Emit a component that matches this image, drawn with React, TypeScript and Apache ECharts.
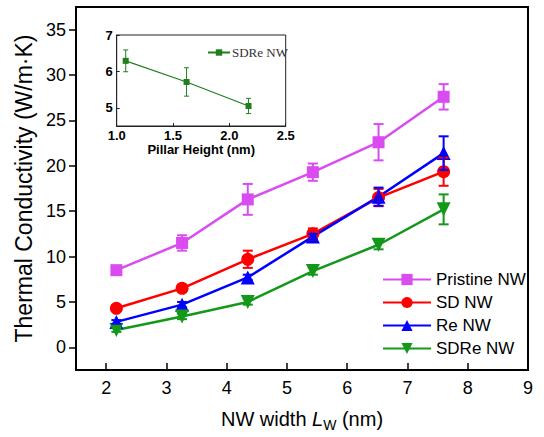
import React, { useEffect, useRef } from "react";
import * as echarts from "echarts";

const widths = [2.17, 3.26, 4.35, 5.43, 6.52, 7.6];
const pristine = [8.5, 11.5, 16.3, 19.3, 22.6, 27.6];
const pristineErr = [0.35, 0.85, 1.7, 0.95, 2.0, 1.4];
const sd = [4.3, 6.5, 9.7, 12.5, 16.5, 19.35];
const sdErr = [0.3, 0.4, 0.95, 0.6, 0.95, 1.55];
const re = [2.8, 4.7, 7.7, 12.2, 16.6, 21.4];
const reErr = [0.2, 0.3, 0.3, 0.3, 1.0, 1.85];
const sdre = [1.9, 3.4, 5.0, 8.4, 11.3, 15.2];
const sdreErr = [0.2, 0.3, 0.3, 0.4, 0.5, 1.65];

const pillar = [1.08, 1.62, 2.17];
const sdrePillar = [6.29, 5.71, 5.05];
const sdrePillarErr = [0.3, 0.39, 0.21];

const xTicks = [2, 3, 4, 5, 6, 7, 8, 9];
const yTicks = [0, 5, 10, 15, 20, 25, 30, 35];
const insetXTicks = [1.0, 1.5, 2.0, 2.5];
const insetYTicks = [5, 6, 7];

const names = ["Pristine NW", "SD NW", "Re NW", "SDRe NW"];
const colors = ["#d94cf0", "#ff0000", "#0000ff", "#14981a"];
const insetColor = "#1f7f1f";

const FONT = "Liberation Sans";

function zip(xs: number[], ys: number[], es?: number[]) {
  return xs.map((x, i) => (es ? [x, ys[i], es[i]] : [x, ys[i]]));
}

function errRender(color: string, cap: number, lw: number) {
  return (params: any, api: any) => {
    const x = api.value(0);
    const y = api.value(1);
    const e = api.value(2);
    const top = api.coord([x, y + e]);
    const bot = api.coord([x, y - e]);
    const style = { stroke: color, lineWidth: lw };
    return {
      type: "group",
      children: [
        { type: "line", shape: { x1: top[0], y1: top[1], x2: bot[0], y2: bot[1] }, style },
        { type: "line", shape: { x1: top[0] - cap, y1: top[1], x2: top[0] + cap, y2: top[1] }, style },
        { type: "line", shape: { x1: bot[0] - cap, y1: bot[1], x2: bot[0] + cap, y2: bot[1] }, style },
      ],
    };
  };
}

export default function App() {
  const ref = useRef<HTMLDivElement>(null);
  useEffect(() => {
    if (!ref.current) return;
    const chart = echarts.init(ref.current, null, { renderer: "svg" });
    const series: any[] = [];
    const vals = [pristine, sd, re, sdre];
    const errs = [pristineErr, sdErr, reErr, sdreErr];
    const symbols = ["rect", "circle", "triangle", "path://M0,0 L10,0 L5,9 Z"];
    const sizes = [12, 13, 14, 14];
    names.forEach((n, i) => {
      series.push({
        type: "custom",
        name: n + " err",
        xAxisIndex: 0,
        yAxisIndex: 0,
        renderItem: errRender(colors[i], 5, 2),
        data: zip(widths, vals[i], errs[i]),
        silent: true,
        z: 3,
      });
    });
    names.forEach((n, i) => {
      series.push({
        type: "line",
        name: n,
        xAxisIndex: 0,
        yAxisIndex: 0,
        data: zip(widths, vals[i]),
        symbol: symbols[i],
        symbolSize: sizes[i],
        lineStyle: { color: colors[i], width: 2.5 },
        itemStyle: { color: colors[i] },
        z: 2,
      });
    });
    series.push({
      type: "custom",
      name: "inset err",
      xAxisIndex: 1,
      yAxisIndex: 1,
      renderItem: errRender(insetColor, 2.5, 1),
      data: zip(pillar, sdrePillar, sdrePillarErr),
      silent: true,
      z: 12,
    });
    series.push({
      type: "line",
      name: "inset",
      xAxisIndex: 1,
      yAxisIndex: 1,
      data: zip(pillar, sdrePillar),
      symbol: "rect",
      symbolSize: 6,
      lineStyle: { color: insetColor, width: 1.2 },
      itemStyle: { color: insetColor },
      z: 12,
    });

    chart.setOption({
      animation: false,
      backgroundColor: "#fff",
      textStyle: { fontFamily: FONT },
      grid: [
        { left: 76, right: 16, top: 7, bottom: 64.5, show: true, borderColor: "#000", borderWidth: 2, backgroundColor: "transparent" },
        { left: 116.7, top: 35, width: 169, height: 91, show: true, borderColor: "#222", borderWidth: 1, backgroundColor: "#fff", z: 10 },
      ],
      legend: [
        {
          data: names,
          orient: "vertical",
          left: 377,
          top: 266,
          itemWidth: 48,
          itemHeight: 14,
          itemGap: 6,
          textStyle: { fontFamily: FONT, fontSize: 17, color: "#000" },
        },
        {
          data: ["inset"],
          left: 202,
          top: 41,
          itemWidth: 22,
          itemHeight: 8,
          itemGap: 2,
          formatter: () => "SDRe NW",
          textStyle: { fontFamily: "Liberation Serif", fontSize: 13, color: "#333", padding: [0, 0, 0, -3] },
          z: 12,
        },
      ],
      xAxis: [
        {
          type: "value",
          gridIndex: 0,
          min: 1.5,
          max: 9,
          splitLine: { show: false },
          axisLine: { onZero: false, lineStyle: { color: "#000", width: 2 } },
          axisTick: { inside: true, length: 7, customValues: xTicks, lineStyle: { color: "#000", width: 1.5 } },
          axisLabel: { customValues: xTicks, fontSize: 18, color: "#000", margin: 9, fontFamily: FONT },
          name: "{n|NW width }{i|L}{s|W}{n| (nm)}",
          nameLocation: "middle",
          nameGap: 36,
          nameTextStyle: {
            rich: {
              n: { fontSize: 20, fontFamily: FONT, color: "#000" },
              i: { fontSize: 20, fontFamily: FONT, fontStyle: "italic", color: "#000" },
              s: { fontSize: 14, fontFamily: FONT, color: "#000", padding: [12, 0, 0, 0] },
            },
          },
        },
        {
          type: "value",
          gridIndex: 1,
          min: 1.0,
          max: 2.5,
          splitLine: { show: false },
          axisLine: { onZero: false, lineStyle: { color: "#222", width: 1 } },
          axisTick: { inside: true, length: 3, customValues: insetXTicks, lineStyle: { color: "#222" } },
          axisLabel: {
            customValues: insetXTicks,
            formatter: (v: number) => v.toFixed(1),
            fontSize: 13,
            fontWeight: "bold",
            color: "#000",
            margin: 3,
            fontFamily: FONT,
          },
          name: "Pillar Height (nm)",
          nameLocation: "middle",
          nameGap: 17,
          nameTextStyle: { fontSize: 13, fontWeight: "bold", color: "#000", fontFamily: FONT },
          z: 12,
        },
      ],
      yAxis: [
        {
          type: "value",
          gridIndex: 0,
          min: -2.5,
          max: 37.5,
          splitLine: { show: false },
          axisLine: { onZero: false, lineStyle: { color: "#000", width: 2 } },
          axisTick: { inside: false, length: 7, customValues: yTicks, lineStyle: { color: "#000", width: 1.5 } },
          axisLabel: { customValues: yTicks, fontSize: 18, color: "#000", margin: 10, fontFamily: FONT },
          name: "Thermal Conductivity (W/m·K)",
          nameLocation: "middle",
          nameGap: 37,
          nameTextStyle: { fontSize: 23, color: "#000", fontFamily: FONT },
        },
        {
          type: "value",
          gridIndex: 1,
          min: 4.5,
          max: 7,
          splitLine: { show: false },
          axisLine: { onZero: false, lineStyle: { color: "#222", width: 1 } },
          axisTick: { inside: true, length: 3, customValues: insetYTicks, lineStyle: { color: "#222" } },
          axisLabel: { customValues: insetYTicks, fontSize: 13, fontWeight: "bold", color: "#000", margin: 4, fontFamily: FONT },
          z: 12,
        },
      ],
      series,
    });
    return () => chart.dispose();
  }, []);
  return <div ref={ref} style={{ width: 544, height: 437, position: "absolute", left: 0, top: 0 }} />;
}
